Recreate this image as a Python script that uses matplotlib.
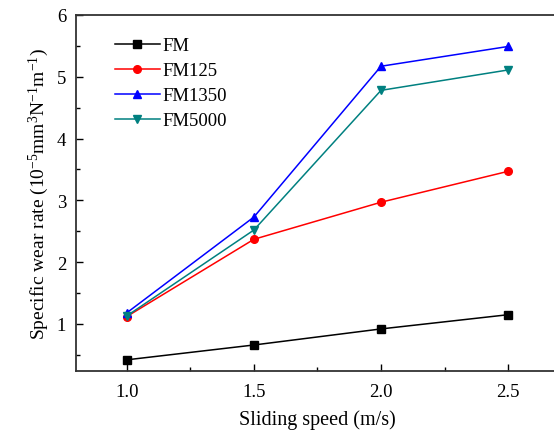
import matplotlib.pyplot as plt
from matplotlib.ticker import MultipleLocator

plt.rcParams['font.family'] = ['Liberation Serif', 'DejaVu Serif']
plt.rcParams['mathtext.fontset'] = 'custom'
plt.rcParams['mathtext.rm'] = 'Liberation Serif'
plt.rcParams['mathtext.it'] = 'Liberation Serif:italic'
plt.rcParams['mathtext.default'] = 'regular'

# 数据
speed = [1.0, 1.5, 2.0, 2.5]
fm = [0.42, 0.66, 0.92, 1.15]
fm125 = [1.12, 2.37, 2.97, 3.47]
fm1350 = [1.18, 2.73, 5.17, 5.49]
fm5000 = [1.13, 2.52, 4.78, 5.11]

fig = plt.figure(figsize=(5.54, 4.31), dpi=100)
ax = fig.add_axes([0.137, 0.137, 0.872, 0.826])

ax.plot(speed, fm, color='black', marker='s', markersize=5.5, lw=1.1, label='FM')
ax.plot(speed, fm125, color='red', marker='o', markersize=5.5, lw=1.1, label='FM125')
ax.plot(speed, fm1350, color='blue', marker='^', markersize=6, lw=1.1, label='FM1350')
ax.plot(speed, fm5000, color='#008080', marker='v', markersize=6, lw=1.1, label='FM5000')

ax.set_xlim(0.8, 2.7)
ax.set_ylim(0.24, 6)
ax.xaxis.set_major_locator(MultipleLocator(0.5))
ax.xaxis.set_minor_locator(MultipleLocator(0.25))
ax.yaxis.set_major_locator(MultipleLocator(1))
ax.yaxis.set_minor_locator(MultipleLocator(0.5))
ax.tick_params(which='both', direction='in', labelsize=13.5, width=1)
ax.tick_params(which='major', length=5)
ax.tick_params(which='minor', length=3)
ax.tick_params(axis='x', pad=9)
ax.tick_params(axis='y', pad=7)
for s in ax.spines.values():
    s.set_linewidth(1.3)
    s.set_color('#333333')

ax.set_xlabel('Sliding speed (m/s)', fontsize=14.5, labelpad=6)
ax.set_ylabel('Specific wear rate (10$^{-5}$mm$^{3}$N$^{-1}$m$^{-1}$)', fontsize=14, labelpad=4)

ax.legend(loc='upper left', bbox_to_anchor=(0.045, 0.985), frameon=False, fontsize=13.5,
          handlelength=2.4, handletextpad=0.15, labelspacing=0.42)

fig.savefig('out.png', dpi=100)
